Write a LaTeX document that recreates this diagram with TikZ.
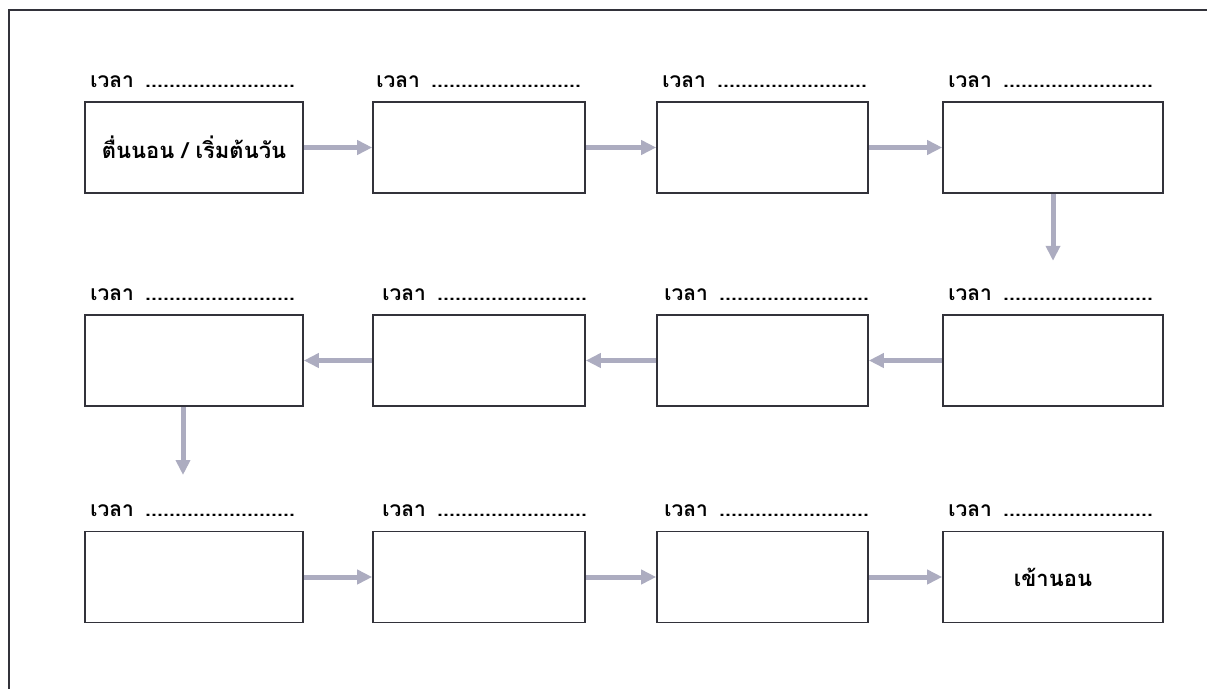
\documentclass[tikz,border=0pt]{standalone}
\usepackage{fontspec}
\newfontfamily\thaifont[Script=Thai]{Loma}
\usetikzlibrary{arrows.meta,positioning}
\definecolor{flowgray}{RGB}{172,172,192}
\definecolor{inkgray}{RGB}{50,50,58}
\newcommand{\timedots}{\hskip 11pt\foreach \k in {1,...,25}{\hbox to 6pt{\hss.\hss}}}
\newcommand{\tlabel}{เวลา\timedots}
\tikzset{
  slot/.style={draw=inkgray, line width=1.6pt, minimum width=#1, minimum height=91pt, inner sep=0pt, font=\thaifont\bfseries\fontsize{22}{26}\selectfont},
  slot/.default=214pt,
  tl/.style={anchor=base west, inner sep=0pt, font=\thaifont\bfseries\fontsize{21}{25}\selectfont},
  flow/.style={draw=flowgray, line width=5pt, -{Triangle[width=14pt,length=15pt]}},
  frame/.style={draw=inkgray, line width=2pt}
}
\begin{document}
\begin{tikzpicture}[x=1pt,y=-1pt]
\useasboundingbox (0,0) rectangle (1207,688);
\clip (0,0) rectangle (1207,688);
\draw[frame] (1220,10) -- (9,10) -- (9,700);
% row 1
\node[slot=218pt] (a1) at (194,147.5) {ตื่นนอน / เริ่มต้นวัน};
\node[slot=212pt] (a2) at (479,147.5) {};
\node[slot=211pt] (a3) at (762.5,147.5) {};
\node[slot=220pt] (a4) at (1053,147.5) {};
% row 2
\node[slot=218pt] (b1) at (194,360.5) {};
\node[slot=212pt] (b2) at (479,360.5) {};
\node[slot=211pt] (b3) at (762.5,360.5) {};
\node[slot=220pt] (b4) at (1053,360.5) {};
% row 3
\node[slot=218pt] (c1) at (194,577) {};
\node[slot=212pt] (c2) at (479,577) {};
\node[slot=211pt] (c3) at (762.5,577) {};
\node[slot=220pt] (c4) at (1053,577) {เข้านอน};
% time labels
\node[tl] (ta1) at ([xshift=6pt,yshift=14pt]a1.north west) {\tlabel};
\node[tl] (ta2) at ([xshift=4pt,yshift=14pt]a2.north west) {\tlabel};
\node[tl] (ta3) at ([xshift=6pt,yshift=14pt]a3.north west) {\tlabel};
\node[tl] (ta4) at ([xshift=6pt,yshift=14pt]a4.north west) {\tlabel};
\node[tl] (tb1) at ([xshift=6pt,yshift=14pt]b1.north west) {\tlabel};
\node[tl] (tb2) at ([xshift=10pt,yshift=14pt]b2.north west) {\tlabel};
\node[tl] (tb3) at ([xshift=8pt,yshift=14pt]b3.north west) {\tlabel};
\node[tl] (tb4) at ([xshift=6pt,yshift=14pt]b4.north west) {\tlabel};
\node[tl] (tc1) at ([xshift=6pt,yshift=14pt]c1.north west) {\tlabel};
\node[tl] (tc2) at ([xshift=10pt,yshift=14pt]c2.north west) {\tlabel};
\node[tl] (tc3) at ([xshift=8pt,yshift=14pt]c3.north west) {\tlabel};
\node[tl] (tc4) at ([xshift=6pt,yshift=14pt]c4.north west) {\tlabel};
% arrows
\coordinate[below=67pt of a4.south] (d1);
\coordinate (d2) at (183,475);
\draw[flow] (a1) -- (a2);
\draw[flow] (a2) -- (a3);
\draw[flow] (a3) -- (a4);
\draw[flow] (a4) -- (d1);
\draw[flow] (b4) -- (b3);
\draw[flow] (b3) -- (b2);
\draw[flow] (b2) -- (b1);
\draw[flow] (b1.south -| d2) -- (d2);
\draw[flow] (c1) -- (c2);
\draw[flow] (c2) -- (c3);
\draw[flow] (c3) -- (c4);
\end{tikzpicture}
\end{document}
